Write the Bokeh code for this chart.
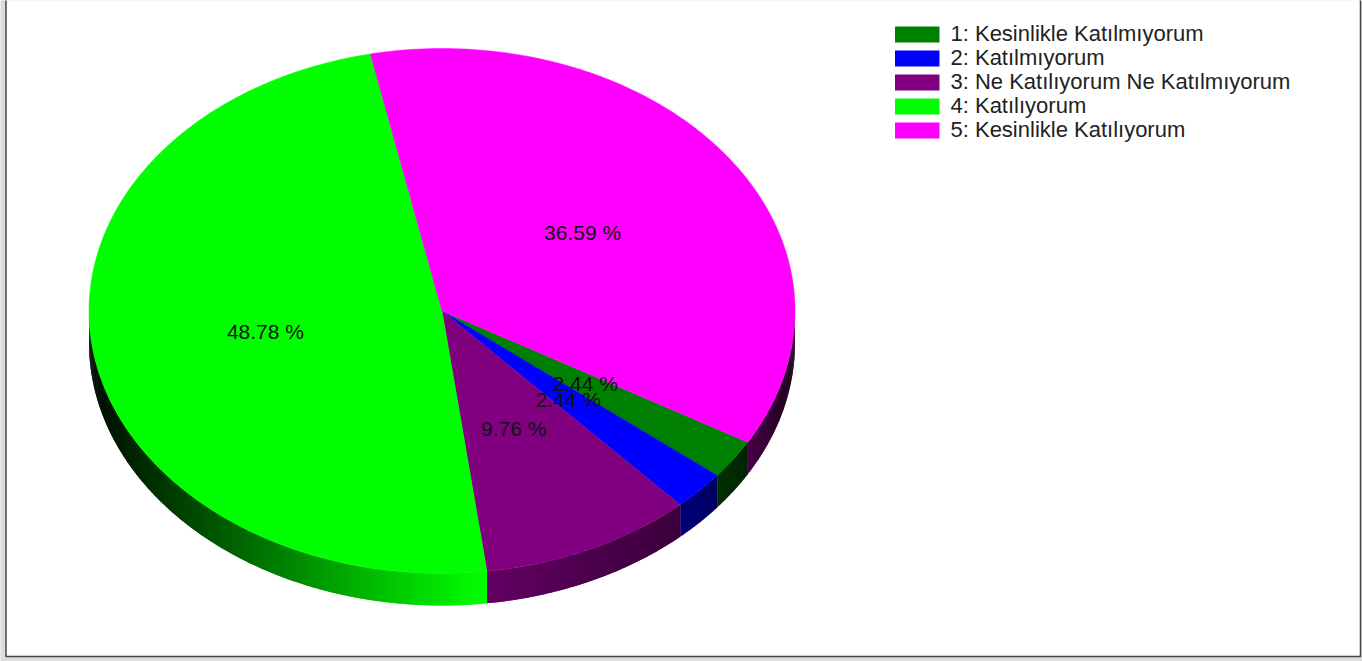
import numpy as np
from bokeh.plotting import figure
from bokeh.embed import file_html
from bokeh.resources import INLINE
from bokeh.models import Range1d
from bokeh.core.properties import value

categories = ["1: Kesinlikle Katılmıyorum", "2: Katılmıyorum",
              "3: Ne Katılıyorum Ne Katılmıyorum", "4: Katılıyorum",
              "5: Kesinlikle Katılıyorum"]
counts = [1, 1, 4, 20, 15]
colors = ["#008000", "#0000FF", "#800080", "#00FF00", "#FF00FF"]
base_rgb = [(0, 128, 0), (0, 0, 255), (128, 0, 128), (0, 255, 0), (255, 0, 255)]

W, H = 1362, 661
CX, CY, RX, RY, DEPTH = 441.5, 310.5, 353.0, 262.5, 32.0
START_DEG = -30.0
LABEL_FRAC = 0.5
FONT = "Liberation Sans"
shade_x_left = [89, 200, 300, 400, 485]
shade_f_left = [0.04, 0.30, 0.55, 0.80, 1.0]
shade_x_right = [486, 600, 700, 760, 795]
shade_f_right = [0.78, 0.58, 0.44, 0.24, 0.10]
LEG_X0, LEG_X1, LEG_TEXT_X, LEG_Y0, LEG_STEP, LEG_HALF = 894.5, 939.0, 950.0, 34.0, 24.0, 8.0

p = figure(width=W, height=H, output_backend="svg", toolbar_location=None,
           x_range=Range1d(0, W), y_range=Range1d(H, 0), min_border=0,
           margin=(0, 0, 0, 0), outline_line_color=None,
           background_fill_color="#DCDCDC", border_fill_color="#DCDCDC")
p.axis.visible = False
p.grid.visible = False

p.quad(left=[5.5], right=[1360], top=[-5], bottom=[656],
       fill_color="white", line_color="#444444", line_width=1.5)

total = sum(counts)
fracs = np.array(counts) / total
bounds = START_DEG - np.concatenate([[0], np.cumsum(fracs)]) * 360.0


def pts(deg, dy=0.0):
    a = np.radians(deg)
    return CX + RX * np.cos(a), CY - RY * np.sin(a) + dy


def shade(x, i):
    if i == 3:
        return np.interp(x, shade_x_left, shade_f_left)
    return np.interp(x, shade_x_right, shade_f_right)


# rim: front half only, as overlapping thin strips so no seams show
for i, c in enumerate(base_rgb):
    for shift in (0.0, 360.0):
        lo = max(bounds[i + 1] + shift, -180.0)
        hi = min(bounds[i] + shift, 0.0)
        if hi <= lo:
            continue
        edges = np.append(np.arange(lo, hi, 0.5), hi)
        xs, ys, cols = [], [], []
        for e0, e1 in zip(edges[:-1], edges[1:]):
            x0, y0 = pts(e0)
            x1, y1 = pts(min(e1 + 0.4, hi))
            xs.append([x0, x1, x1, x0])
            ys.append([y0, y1, y1 + DEPTH, y0 + DEPTH])
            f = shade((x0 + x1) / 2, i)
            cols.append("#%02x%02x%02x" % tuple(int(round(v * f)) for v in c))
        p.patches(xs, ys, fill_color=cols, line_color=None)

# top faces
for i, col in enumerate(colors):
    ang = np.linspace(bounds[i], bounds[i + 1], max(3, int(abs(bounds[i + 1] - bounds[i]) * 2)))
    x, y = pts(ang)
    p.patch(np.r_[CX, x], np.r_[CY, y], fill_color=col, line_color=col, line_width=0.5)

mids = (bounds[:-1] + bounds[1:]) / 2
lx = CX + LABEL_FRAC * RX * np.cos(np.radians(mids))
ly = CY - LABEL_FRAC * RY * np.sin(np.radians(mids))
p.text(lx, ly, text=[f"{f * 100:.2f} %" for f in fracs],
       text_font=value(FONT), text_font_size="21px", text_color="#111111",
       text_align="center", text_baseline="middle", x_offset=-2.5, y_offset=-1.5)

# legend block, laid out in rows of its own so the row pitch matches
rows = LEG_Y0 + LEG_STEP * np.arange(len(categories))
p.quad(left=LEG_X0, right=LEG_X1, top=rows - LEG_HALF, bottom=rows + LEG_HALF,
       fill_color=colors, line_color=None)
p.text(x=LEG_TEXT_X, y=rows, text=categories, text_font=value(FONT),
       text_font_size="22px", text_color="#222222",
       text_align="left", text_baseline="middle", y_offset=-1)

open("out.html", "w").write(file_html(p, INLINE))
